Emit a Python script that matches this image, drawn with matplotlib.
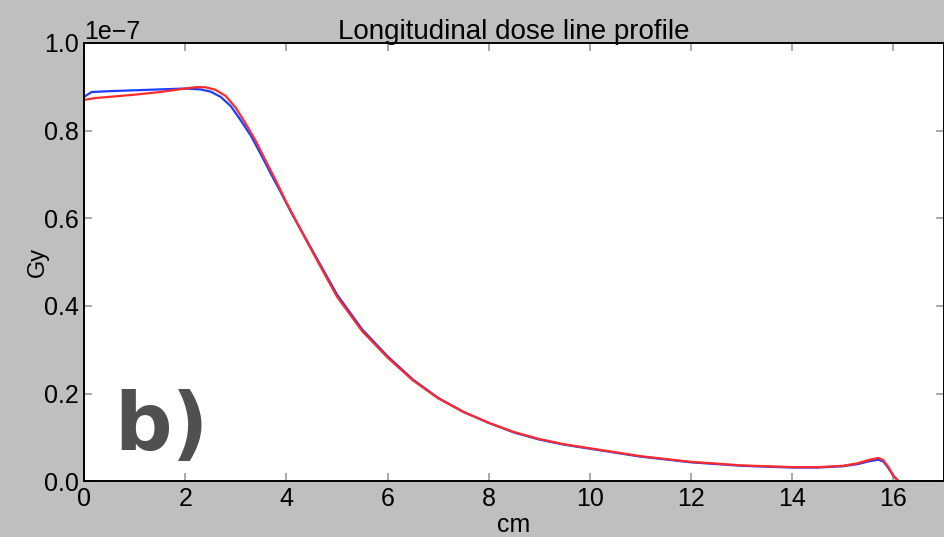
import matplotlib

matplotlib.use("Agg")
import matplotlib.pyplot as plt

# depth (cm) and dose (units of 1e-7 Gy)
x_blue = [0.0, 0.15, 0.5, 1.0, 1.5, 2.0, 2.3, 2.5, 2.7, 2.9, 3.1, 3.3, 3.5,
          3.7, 3.9, 4.1, 4.4, 4.7, 5.0, 5.5, 6.0, 6.5, 7.0, 7.5, 8.0, 8.5,
          9.0, 9.5, 10.0, 11.0, 12.0, 13.0, 14.0, 14.5, 15.0, 15.3, 15.5,
          15.7, 15.8, 15.9, 16.0, 16.1, 17.0]
dose_blue = [0.877, 0.888, 0.890, 0.892, 0.894, 0.896, 0.894, 0.889, 0.877,
             0.856, 0.823, 0.788, 0.745, 0.700, 0.657, 0.612, 0.550, 0.488,
             0.426, 0.346, 0.285, 0.232, 0.190, 0.158, 0.133, 0.111, 0.095,
             0.083, 0.074, 0.056, 0.043, 0.035, 0.031, 0.031, 0.034, 0.039,
             0.045, 0.049, 0.045, 0.030, 0.012, 0.0, 0.0]
x_red = [0.0, 0.2, 0.5, 1.0, 1.5, 2.0, 2.2, 2.4, 2.6, 2.8, 3.0, 3.2, 3.4,
         3.6, 3.8, 4.0, 4.2, 4.4, 4.7, 5.0, 5.5, 6.0, 6.5, 7.0, 7.5, 8.0,
         8.5, 9.0, 9.5, 10.0, 11.0, 12.0, 13.0, 14.0, 14.5, 15.0, 15.3,
         15.5, 15.7, 15.8, 15.9, 16.0, 16.1, 17.0]
dose_red = [0.870, 0.874, 0.877, 0.882, 0.888, 0.896, 0.899, 0.899, 0.893,
            0.879, 0.852, 0.815, 0.775, 0.729, 0.684, 0.636, 0.592, 0.548,
            0.484, 0.421, 0.342, 0.282, 0.230, 0.189, 0.158, 0.133, 0.112,
            0.096, 0.084, 0.075, 0.057, 0.044, 0.036, 0.032, 0.032, 0.035,
            0.041, 0.048, 0.053, 0.048, 0.032, 0.012, 0.0, 0.0]

scale = 1e-7
plt.rcParams["font.family"] = ["Liberation Sans", "DejaVu Sans"]

fig = plt.figure(figsize=(9.44, 5.37), dpi=100, facecolor="#bfbfbf")
ax = fig.add_axes([0.089, 0.104, 0.911, 0.816])

ax.plot(x_blue, [v * scale for v in dose_blue], color="#1f3dff", lw=1.6)
ax.plot(x_red, [v * scale for v in dose_red], color="#ff2a2a", lw=1.6)

ax.set_xlim(0, 17)
ax.set_ylim(0, 1e-7)
ax.set_xticks([0, 2, 4, 6, 8, 10, 12, 14, 16])
ax.set_yticks([0, 0.2e-7, 0.4e-7, 0.6e-7, 0.8e-7, 1.0e-7])
ax.tick_params(direction="in", top=True, right=True, length=6, width=1.2,
               color="#999999", labelsize=18, pad=4)
for s in ax.spines.values():
    s.set_linewidth(1.4)
ax.yaxis.get_offset_text().set_fontsize(18)

ax.set_title("Longitudinal dose line profile", fontsize=20, pad=3)
ax.set_xlabel("cm", fontsize=18, labelpad=2)
ax.set_ylabel("Gy", fontsize=17, labelpad=-4)

ax.text(0.035, 0.07, "b)", transform=ax.transAxes, fontsize=58,
        fontweight="bold", color="#505050", family="DejaVu Sans")

fig.savefig("out.png", dpi=100, facecolor=fig.get_facecolor())
